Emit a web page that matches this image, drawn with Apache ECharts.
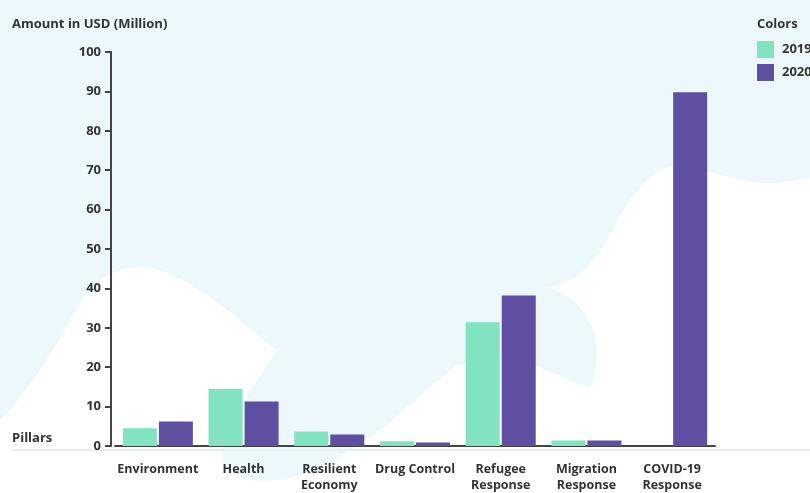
<!DOCTYPE html>
<html>
<head>
<meta charset="utf-8">
<script src="https://cdn.jsdelivr.net/npm/echarts@6/dist/echarts.min.js"></script>
<style>
  html, body { margin: 0; padding: 0; background: #ffffff; }
  #chart { width: 810px; height: 493px; }
</style>
</head>
<body>
<div id="chart"></div>
<script>
var categories = ['Environment', 'Health', 'Resilient\nEconomy', 'Drug Control', 'Refugee\nResponse', 'Migration\nResponse', 'COVID-19\nResponse'];
var values2019 = [4.5, 14.5, 3.7, 1.2, 31.4, 1.4, 0];
var values2020 = [6.2, 11.3, 2.9, 0.9, 38.2, 1.4, 89.8];
var seriesNames = ['2019', '2020'];
var yTicks = { min: 0, max: 100, interval: 10 };

var FONT = '"Open Sans", "Noto Sans", sans-serif';
var TXT = '#333333';
var BG = '#edf8fd';

// decorative background wave: start point then cubic segments [c1x,c1y,c2x,c2y,x,y]
var bgStart = [810, 178];
var bgCurves = [
  [790,181, 775,184, 763,183],
  [745,182, 725,175, 707,172],
  [690,168, 670,163, 657,172],
  [640,182, 625,205, 607,240],
  [595,260, 580,283, 547,287],
  [575,295, 597,320, 597,355],
  [597,370, 593,382, 590,388],
  [570,380, 550,370, 520,362],
  [495,356, 470,358, 455,367],
  [430,385, 400,415, 370,437],
  [335,462, 300,480, 265,481],
  [240,481, 222,470, 222,455],
  [222,430, 245,400, 277,350],
  [255,335, 220,300, 183,280],
  [160,268, 145,266, 137,267],
  [115,268, 95,280, 80,303],
  [65,330, 35,385, 0,420]
];
function sampleBg() {
  var pts = [[0, 0], [810, 0], bgStart.slice()];
  var p = bgStart;
  bgCurves.forEach(function (c) {
    for (var i = 1; i <= 16; i++) {
      var t = i / 16, u = 1 - t;
      pts.push([
        u*u*u*p[0] + 3*u*u*t*c[0] + 3*u*t*t*c[2] + t*t*t*c[4],
        u*u*u*p[1] + 3*u*u*t*c[1] + 3*u*t*t*c[3] + t*t*t*c[5]
      ]);
    }
    p = [c[4], c[5]];
  });
  return pts;
}

var chart = echarts.init(document.getElementById('chart'), null, { renderer: 'canvas' });

var titleStyle = { fontFamily: FONT, fontSize: 13, fontWeight: 'bold', color: TXT };

var option = {
  backgroundColor: '#ffffff',
  animation: false,
  textStyle: { fontFamily: FONT },
  graphic: [
    { type: 'polygon', z: -10, silent: true, shape: { points: sampleBg() }, style: { fill: BG } },
    { type: 'line', z: -5, silent: true, shape: { x1: 12, y1: 450, x2: 810, y2: 450 }, style: { stroke: '#e6edef', lineWidth: 2 } }
  ],
  title: [
    { text: 'Amount in USD (Million)', left: 12, top: 18, padding: 0, textStyle: titleStyle },
    { text: 'Pillars', left: 12, top: 432, padding: 0, textStyle: titleStyle },
    { text: 'Colors', left: 757, top: 18, padding: 0, textStyle: titleStyle }
  ],
  legend: {
    data: seriesNames,
    orient: 'vertical',
    left: 757,
    top: 41,
    padding: 0,
    icon: 'rect',
    itemWidth: 17,
    itemHeight: 17,
    itemGap: 6,
    textStyle: { fontFamily: FONT, fontSize: 13, fontWeight: 'bold', color: TXT, padding: [0, 0, 0, 3] }
  },
  grid: { left: 115, right: 95, top: 52, bottom: 43, containLabel: false },
  xAxis: {
    type: 'category',
    data: categories,
    axisLine: { lineStyle: { color: '#444444', width: 2 } },
    axisTick: { alignWithLabel: true, length: 6, lineStyle: { color: '#555555', width: 2 } },
    axisLabel: { interval: 0, margin: 15, fontFamily: FONT, fontSize: 12.5, fontWeight: 'bold', color: TXT, lineHeight: 16 }
  },
  yAxis: {
    type: 'value',
    min: yTicks.min,
    max: yTicks.max,
    interval: yTicks.interval,
    offset: 4,
    splitLine: { show: false },
    axisLine: { show: true, lineStyle: { color: '#444444', width: 2 } },
    axisTick: { show: true, length: 6, lineStyle: { color: '#444444', width: 2 } },
    axisLabel: { margin: 10, fontFamily: FONT, fontSize: 13, fontWeight: 'bold', color: TXT }
  },
  series: [
    { name: seriesNames[0], type: 'bar', data: values2019, barWidth: 34, barGap: '6%', itemStyle: { color: '#82e3c0' } },
    { name: seriesNames[1], type: 'bar', data: values2020, barWidth: 34, barGap: '6%', itemStyle: { color: '#5e4fa0' } }
  ]
};
chart.setOption(option);
</script>
</body>
</html>
